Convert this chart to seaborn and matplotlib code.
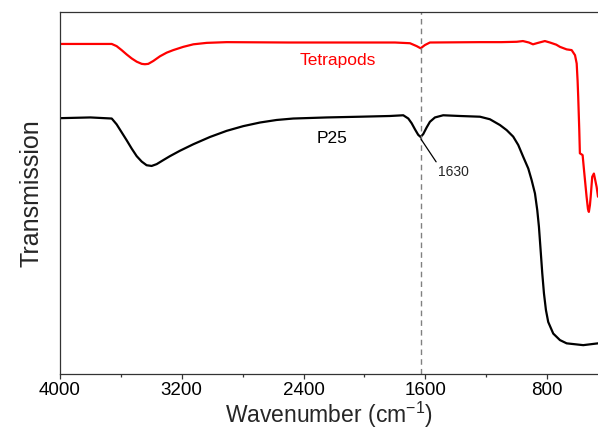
import numpy as np
import pandas as pd
import matplotlib
matplotlib.use("Agg")
import matplotlib.pyplot as plt
import seaborn as sns
from matplotlib.ticker import MultipleLocator

# =======================
# Spectra (wavenumber, transmission a.u.)
# =======================
tetra_wn = [4000, 3800, 3660, 3628, 3595, 3562, 3529, 3496, 3463, 3442, 3420,
            3387, 3343, 3299, 3256, 3190, 3124, 3036, 2905, 2500, 1800, 1701,
            1657, 1631, 1603, 1570, 1241, 1100, 1000, 959, 920, 893, 860,
            815, 782, 740, 716, 672, 639, 617, 606, 600, 596, 589, 585, 567,
            558, 541, 532, 526, 519, 514, 504, 493, 475, 466]
tetra_t = [91.2, 91.2, 91.2, 90.6, 89.5, 88.3, 87.2, 86.3, 85.7, 85.6, 85.7,
           86.5, 87.8, 88.8, 89.5, 90.4, 91.1, 91.5, 91.7, 91.6, 91.6, 91.4,
           90.6, 90.0, 90.9, 91.6, 91.7, 91.7, 91.8, 92.0, 91.6, 91.1, 91.5,
           92.0, 91.6, 91.0, 90.4, 89.7, 89.5, 88.1, 85.8, 81.0, 76.6, 67.4,
           61.0, 60.5, 56.4, 49.0, 45.6, 44.8, 46.7, 49.0, 54.5, 55.4, 51.7,
           49.0]

p25_wn = [4000, 3800, 3660, 3628, 3595, 3562, 3529, 3496, 3463, 3431, 3398,
          3365, 3322, 3278, 3212, 3124, 3015, 2905, 2796, 2686, 2577, 2468,
          2248, 2030, 1833, 1745, 1712, 1690, 1668, 1647, 1631, 1614, 1592,
          1570, 1537, 1483, 1373, 1241, 1176, 1110, 1066, 1023, 990, 957,
          924, 902, 880, 865, 854, 843, 832, 821, 808, 793, 760, 716, 672,
          563, 466]
p25_t = [70.7, 70.9, 70.6, 69.0, 66.8, 64.6, 62.3, 60.2, 58.7, 57.7, 57.5,
         58.0, 59.1, 60.2, 61.7, 63.5, 65.5, 67.2, 68.5, 69.5, 70.2, 70.6,
         70.9, 71.1, 71.3, 71.5, 70.6, 69.3, 67.6, 66.1, 65.5, 66.3, 68.1,
         69.7, 70.9, 71.5, 71.3, 71.1, 70.4, 68.8, 67.4, 65.6, 63.3, 60.0,
         56.8, 53.6, 49.9, 45.3, 40.7, 34.3, 27.8, 22.3, 17.7, 14.4, 11.2,
         9.4, 8.5, 8.0, 8.5]

peak_wn = 1630
xticks = [4000, 3200, 2400, 1600, 800]

tetra = pd.DataFrame({"wn": tetra_wn, "T": tetra_t})
p25 = pd.DataFrame({"wn": p25_wn, "T": p25_t})

# =======================
# Plot
# =======================
sns.set_style("ticks")
plt.rcParams["font.family"] = ["Liberation Sans", "DejaVu Sans"]

fig = plt.figure(figsize=(5.98, 4.32), dpi=100)
ax = fig.add_axes([0.1003, 0.134, 0.8997, 0.838])

sns.lineplot(data=tetra, x="wn", y="T", color="#ff0000", lw=1.6, ax=ax)
sns.lineplot(data=p25, x="wn", y="T", color="black", lw=1.6, ax=ax)
ax.axvline(peak_wn, color="#808080", ls=(0, (4, 3)), lw=1.0)

ax.set_xlim(4000, 466)
ax.set_ylim(0, 100)
ax.set_xticks(xticks)
ax.xaxis.set_minor_locator(MultipleLocator(400))
ax.set_yticks([])
ax.tick_params(axis="x", which="major", direction="out", length=3.5, width=0.9,
               labelsize=13.5, colors="#333333", labelcolor="black", pad=2.5)
ax.tick_params(axis="x", which="minor", direction="out", length=2.5, width=0.9,
               colors="#333333")

for s in ["left", "bottom", "top"]:
    ax.spines[s].set_color("#333333")
    ax.spines[s].set_linewidth(0.9)
ax.spines["right"].set_visible(False)

ax.set_xlabel("Wavenumber (cm$^{\\mathregular{-1}}$)", fontsize=16.5, labelpad=0)
ax.set_ylabel("Transmission", fontsize=18, labelpad=12)

ax.text(2174, 86.7, "Tetrapods", color="#ff0000", fontsize=12.5,
        ha="center", va="center")
ax.text(2214, 65.2, "P25", color="black", fontsize=12.5,
        ha="center", va="center")
ax.annotate("1630", xy=(peak_wn, 65.0), xytext=(1515, 55.8), fontsize=10,
            ha="left", va="center",
            arrowprops=dict(arrowstyle="-", color="black", lw=0.9,
                            relpos=(0.0, 1.0), shrinkA=0, shrinkB=0))

fig.savefig("out.png", dpi=100)
